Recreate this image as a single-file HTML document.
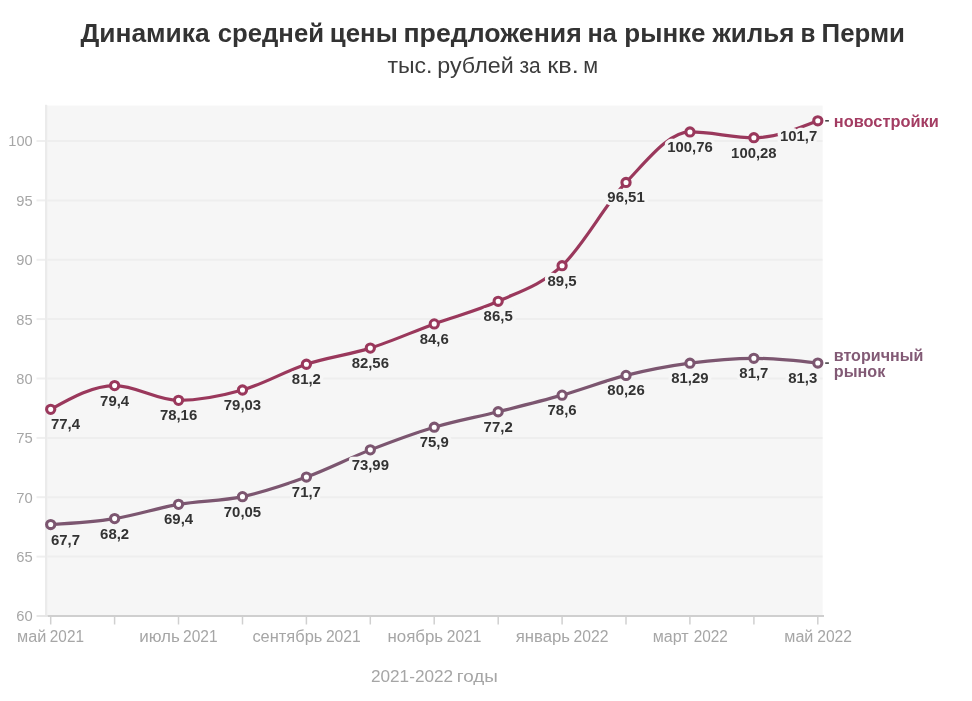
<!DOCTYPE html>
<html lang="ru"><head><meta charset="utf-8"><title>Динамика средней цены предложения на рынке жилья в Перми</title>
<style>html,body{margin:0;padding:0;background:#fff}body{width:972px;height:701px;overflow:hidden}svg{display:block}text{font-family:"Liberation Sans",sans-serif}.t{font-weight:bold;fill:#333333;font-size:25.2px}.s{fill:#3c3c3c;font-size:21.8px}.ax{fill:#a6a6a6}.dl{font-weight:bold;font-size:14.4px;fill:#333333;stroke:#f6f6f6;stroke-width:6.5;stroke-linejoin:round;paint-order:stroke fill}.lg{font-weight:bold;font-size:15.8px}</style></head><body>
<svg width="972" height="701" viewBox="0 0 972 701">
<rect width="972" height="701" fill="#fff"/>
<text class="t" y="42.00"><tspan x="80.49" textLength="129.24" lengthAdjust="spacingAndGlyphs">Динамика</tspan> <tspan x="217.70" textLength="106.38" lengthAdjust="spacingAndGlyphs">средней</tspan> <tspan x="329.82" textLength="67.97" lengthAdjust="spacingAndGlyphs">цены</tspan> <tspan x="403.46" textLength="178.30" lengthAdjust="spacingAndGlyphs">предложения</tspan> <tspan x="587.45" textLength="29.37" lengthAdjust="spacingAndGlyphs">на</tspan> <tspan x="624.31" textLength="81.29" lengthAdjust="spacingAndGlyphs">рынке</tspan> <tspan x="712.40" textLength="82.07" lengthAdjust="spacingAndGlyphs">жилья</tspan> <tspan x="800.43" textLength="14.91" lengthAdjust="spacingAndGlyphs">в</tspan> <tspan x="821.59" textLength="83.39" lengthAdjust="spacingAndGlyphs">Перми</tspan></text>
<text class="s" y="72.60"><tspan x="387.41" textLength="45.08" lengthAdjust="spacingAndGlyphs">тыс.</tspan> <tspan x="437.31" textLength="76.38" lengthAdjust="spacingAndGlyphs">рублей</tspan> <tspan x="519.52" textLength="21.25" lengthAdjust="spacingAndGlyphs">за</tspan> <tspan x="547.21" textLength="31.48" lengthAdjust="spacingAndGlyphs">кв.</tspan> <tspan x="583.21" textLength="14.87" lengthAdjust="spacingAndGlyphs">м</tspan></text>
<rect x="45.0" y="105.6" width="777.6" height="510.4" fill="#f6f6f6"/>
<rect x="45.0" y="104.8" width="2.2" height="511.2" fill="#ebebeb"/>
<line x1="36.5" x2="47.2" y1="616.0" y2="616.0" stroke="#e6e6e6" stroke-width="2"/>
<text class="ax" x="16.26" y="620.60" font-size="15.3" textLength="16.40" lengthAdjust="spacingAndGlyphs">60</text>
<line x1="47.2" x2="822.6" y1="556.6" y2="556.6" stroke="#eeeeee" stroke-width="2"/>
<line x1="36.5" x2="45.0" y1="556.6" y2="556.6" stroke="#efefef" stroke-width="2"/>
<text class="ax" x="16.26" y="562.02" font-size="15.3" textLength="16.45" lengthAdjust="spacingAndGlyphs">65</text>
<line x1="47.2" x2="822.6" y1="497.2" y2="497.2" stroke="#eeeeee" stroke-width="2"/>
<line x1="36.5" x2="45.0" y1="497.2" y2="497.2" stroke="#efefef" stroke-width="2"/>
<text class="ax" x="16.25" y="502.65" font-size="15.3" textLength="16.42" lengthAdjust="spacingAndGlyphs">70</text>
<line x1="47.2" x2="822.6" y1="437.9" y2="437.9" stroke="#eeeeee" stroke-width="2"/>
<line x1="36.5" x2="45.0" y1="437.9" y2="437.9" stroke="#efefef" stroke-width="2"/>
<text class="ax" x="16.25" y="443.27" font-size="15.3" textLength="16.47" lengthAdjust="spacingAndGlyphs">75</text>
<line x1="47.2" x2="822.6" y1="378.5" y2="378.5" stroke="#eeeeee" stroke-width="2"/>
<line x1="36.5" x2="45.0" y1="378.5" y2="378.5" stroke="#efefef" stroke-width="2"/>
<text class="ax" x="16.37" y="383.90" font-size="15.3" textLength="16.29" lengthAdjust="spacingAndGlyphs">80</text>
<line x1="47.2" x2="822.6" y1="319.1" y2="319.1" stroke="#eeeeee" stroke-width="2"/>
<line x1="36.5" x2="45.0" y1="319.1" y2="319.1" stroke="#efefef" stroke-width="2"/>
<text class="ax" x="16.37" y="324.52" font-size="15.3" textLength="16.34" lengthAdjust="spacingAndGlyphs">85</text>
<line x1="47.2" x2="822.6" y1="259.8" y2="259.8" stroke="#eeeeee" stroke-width="2"/>
<line x1="36.5" x2="45.0" y1="259.8" y2="259.8" stroke="#efefef" stroke-width="2"/>
<text class="ax" x="16.32" y="265.15" font-size="15.3" textLength="16.34" lengthAdjust="spacingAndGlyphs">90</text>
<line x1="47.2" x2="822.6" y1="200.4" y2="200.4" stroke="#eeeeee" stroke-width="2"/>
<line x1="36.5" x2="45.0" y1="200.4" y2="200.4" stroke="#efefef" stroke-width="2"/>
<text class="ax" x="16.32" y="206.08" font-size="15.3" textLength="16.39" lengthAdjust="spacingAndGlyphs">95</text>
<line x1="47.2" x2="822.6" y1="141.0" y2="141.0" stroke="#eeeeee" stroke-width="2"/>
<line x1="36.5" x2="45.0" y1="141.0" y2="141.0" stroke="#efefef" stroke-width="2"/>
<text class="ax" x="8.29" y="146.40" font-size="15.3" textLength="24.37" lengthAdjust="spacingAndGlyphs">100</text>
<line x1="47.5" x2="824.0" y1="616.0" y2="616.0" stroke="#cfcfcf" stroke-width="2"/>
<line x1="50.7" x2="50.7" y1="617.0" y2="624.5" stroke="#d0d0d0" stroke-width="1.5"/>
<line x1="114.6" x2="114.6" y1="617.0" y2="624.5" stroke="#d0d0d0" stroke-width="1.5"/>
<line x1="178.5" x2="178.5" y1="617.0" y2="624.5" stroke="#d0d0d0" stroke-width="1.5"/>
<line x1="242.5" x2="242.5" y1="617.0" y2="624.5" stroke="#d0d0d0" stroke-width="1.5"/>
<line x1="306.4" x2="306.4" y1="617.0" y2="624.5" stroke="#d0d0d0" stroke-width="1.5"/>
<line x1="370.3" x2="370.3" y1="617.0" y2="624.5" stroke="#d0d0d0" stroke-width="1.5"/>
<line x1="434.2" x2="434.2" y1="617.0" y2="624.5" stroke="#d0d0d0" stroke-width="1.5"/>
<line x1="498.2" x2="498.2" y1="617.0" y2="624.5" stroke="#d0d0d0" stroke-width="1.5"/>
<line x1="562.1" x2="562.1" y1="617.0" y2="624.5" stroke="#d0d0d0" stroke-width="1.5"/>
<line x1="626.0" x2="626.0" y1="617.0" y2="624.5" stroke="#d0d0d0" stroke-width="1.5"/>
<line x1="689.9" x2="689.9" y1="617.0" y2="624.5" stroke="#d0d0d0" stroke-width="1.5"/>
<line x1="753.9" x2="753.9" y1="617.0" y2="624.5" stroke="#d0d0d0" stroke-width="1.5"/>
<line x1="817.8" x2="817.8" y1="617.0" y2="624.5" stroke="#d0d0d0" stroke-width="1.5"/>
<text class="ax" y="641.80" font-size="15.8"><tspan x="17.08" textLength="29.33" lengthAdjust="spacingAndGlyphs">май</tspan> <tspan x="49.83" textLength="34.11" lengthAdjust="spacingAndGlyphs">2021</tspan></text>
<text class="ax" y="641.80" font-size="15.8"><tspan x="139.23" textLength="40.67" lengthAdjust="spacingAndGlyphs">июль</tspan> <tspan x="183.12" textLength="34.53" lengthAdjust="spacingAndGlyphs">2021</tspan></text>
<text class="ax" y="641.80" font-size="15.8"><tspan x="252.41" textLength="69.96" lengthAdjust="spacingAndGlyphs">сентябрь</tspan> <tspan x="325.92" textLength="34.84" lengthAdjust="spacingAndGlyphs">2021</tspan></text>
<text class="ax" y="641.80" font-size="15.8"><tspan x="387.43" textLength="55.76" lengthAdjust="spacingAndGlyphs">ноябрь</tspan> <tspan x="446.72" textLength="34.64" lengthAdjust="spacingAndGlyphs">2021</tspan></text>
<text class="ax" y="641.80" font-size="15.8"><tspan x="515.67" textLength="54.42" lengthAdjust="spacingAndGlyphs">январь</tspan> <tspan x="573.61" textLength="34.98" lengthAdjust="spacingAndGlyphs">2022</tspan></text>
<text class="ax" y="641.80" font-size="15.8"><tspan x="652.69" textLength="35.98" lengthAdjust="spacingAndGlyphs">март</tspan> <tspan x="693.63" textLength="34.25" lengthAdjust="spacingAndGlyphs">2022</tspan></text>
<text class="ax" y="641.80" font-size="15.8"><tspan x="784.29" textLength="29.12" lengthAdjust="spacingAndGlyphs">май</tspan> <tspan x="817.22" textLength="34.77" lengthAdjust="spacingAndGlyphs">2022</tspan></text>
<text class="ax" y="682.20" font-size="15.8"><tspan x="370.94" textLength="82.22" lengthAdjust="spacingAndGlyphs">2021-2022</tspan> <tspan x="456.80" textLength="41.11" lengthAdjust="spacingAndGlyphs">годы</tspan></text>
<path d="M50.70,524.56C72.01,523.28,93.32,521.99,114.62,518.62C135.93,515.26,157.24,508.04,178.55,504.37C199.86,500.71,221.17,501.21,242.47,496.66C263.78,492.10,285.09,484.86,306.40,477.06C327.71,469.26,349.02,458.18,370.32,449.87C391.63,441.56,412.94,433.54,434.25,427.19C455.56,420.83,476.87,417.09,498.17,411.75C519.48,406.41,540.79,401.18,562.10,395.13C583.41,389.07,604.72,380.74,626.02,375.41C647.33,370.09,668.64,366.03,689.95,363.18C711.26,360.33,732.57,358.31,753.87,358.31C775.18,358.31,796.49,360.69,817.80,363.06" fill="none" stroke="#7c5670" stroke-width="3.2" stroke-linecap="round" stroke-linejoin="round"/>
<path d="M50.70,409.37C72.01,397.50,93.32,385.62,114.62,385.62C135.93,385.62,157.24,400.35,178.55,400.35C199.86,400.35,221.17,396.04,242.47,390.02C263.78,384.00,285.09,371.24,306.40,364.25C327.71,357.26,349.02,354.83,370.32,348.10C391.63,341.37,412.94,331.67,434.25,323.88C455.56,316.08,476.87,311.01,498.17,301.31C519.48,291.61,540.79,285.50,562.10,265.69C583.41,245.88,604.72,204.73,626.02,182.44C647.33,160.16,668.64,131.97,689.95,131.97C711.26,131.97,732.57,137.68,753.87,137.68C775.18,137.68,796.49,129.24,817.80,120.81" fill="none" stroke="#9a385c" stroke-width="3.2" stroke-linecap="round" stroke-linejoin="round"/>
<text class="dl" x="50.90" y="544.56" textLength="29.10" lengthAdjust="spacingAndGlyphs">67,7</text>
<text class="dl" x="100.08" y="538.62" textLength="29.10" lengthAdjust="spacingAndGlyphs">68,2</text>
<text class="dl" x="164.00" y="524.38" textLength="29.10" lengthAdjust="spacingAndGlyphs">69,4</text>
<text class="dl" x="223.82" y="516.66" textLength="37.30" lengthAdjust="spacingAndGlyphs">70,05</text>
<text class="dl" x="291.85" y="497.06" textLength="29.10" lengthAdjust="spacingAndGlyphs">71,7</text>
<text class="dl" x="351.67" y="469.87" textLength="37.30" lengthAdjust="spacingAndGlyphs">73,99</text>
<text class="dl" x="419.70" y="447.19" textLength="29.10" lengthAdjust="spacingAndGlyphs">75,9</text>
<text class="dl" x="483.62" y="431.75" textLength="29.10" lengthAdjust="spacingAndGlyphs">77,2</text>
<text class="dl" x="547.55" y="415.13" textLength="29.10" lengthAdjust="spacingAndGlyphs">78,6</text>
<text class="dl" x="607.38" y="395.41" textLength="37.30" lengthAdjust="spacingAndGlyphs">80,26</text>
<text class="dl" x="671.30" y="383.18" textLength="37.30" lengthAdjust="spacingAndGlyphs">81,29</text>
<text class="dl" x="739.32" y="378.31" textLength="29.10" lengthAdjust="spacingAndGlyphs">81,7</text>
<text class="dl" x="788.20" y="383.06" textLength="29.10" lengthAdjust="spacingAndGlyphs">81,3</text>
<text class="dl" x="50.90" y="429.37" textLength="29.10" lengthAdjust="spacingAndGlyphs">77,4</text>
<text class="dl" x="100.08" y="405.62" textLength="29.10" lengthAdjust="spacingAndGlyphs">79,4</text>
<text class="dl" x="159.90" y="420.35" textLength="37.30" lengthAdjust="spacingAndGlyphs">78,16</text>
<text class="dl" x="223.82" y="410.02" textLength="37.30" lengthAdjust="spacingAndGlyphs">79,03</text>
<text class="dl" x="291.85" y="384.25" textLength="29.10" lengthAdjust="spacingAndGlyphs">81,2</text>
<text class="dl" x="351.67" y="368.10" textLength="37.30" lengthAdjust="spacingAndGlyphs">82,56</text>
<text class="dl" x="419.70" y="343.88" textLength="29.10" lengthAdjust="spacingAndGlyphs">84,6</text>
<text class="dl" x="483.62" y="321.31" textLength="29.10" lengthAdjust="spacingAndGlyphs">86,5</text>
<text class="dl" x="547.55" y="285.69" textLength="29.10" lengthAdjust="spacingAndGlyphs">89,5</text>
<text class="dl" x="607.38" y="202.44" textLength="37.30" lengthAdjust="spacingAndGlyphs">96,51</text>
<text class="dl" x="667.20" y="151.97" textLength="45.50" lengthAdjust="spacingAndGlyphs">100,76</text>
<text class="dl" x="731.12" y="157.68" textLength="45.50" lengthAdjust="spacingAndGlyphs">100,28</text>
<text class="dl" x="780.00" y="140.81" textLength="37.30" lengthAdjust="spacingAndGlyphs">101,7</text>
<circle cx="50.70" cy="524.56" r="4.1" fill="#fff" stroke="#7c5670" stroke-width="3.1"/>
<circle cx="114.62" cy="518.62" r="4.1" fill="#fff" stroke="#7c5670" stroke-width="3.1"/>
<circle cx="178.55" cy="504.37" r="4.1" fill="#fff" stroke="#7c5670" stroke-width="3.1"/>
<circle cx="242.47" cy="496.66" r="4.1" fill="#fff" stroke="#7c5670" stroke-width="3.1"/>
<circle cx="306.40" cy="477.06" r="4.1" fill="#fff" stroke="#7c5670" stroke-width="3.1"/>
<circle cx="370.32" cy="449.87" r="4.1" fill="#fff" stroke="#7c5670" stroke-width="3.1"/>
<circle cx="434.25" cy="427.19" r="4.1" fill="#fff" stroke="#7c5670" stroke-width="3.1"/>
<circle cx="498.17" cy="411.75" r="4.1" fill="#fff" stroke="#7c5670" stroke-width="3.1"/>
<circle cx="562.10" cy="395.13" r="4.1" fill="#fff" stroke="#7c5670" stroke-width="3.1"/>
<circle cx="626.02" cy="375.41" r="4.1" fill="#fff" stroke="#7c5670" stroke-width="3.1"/>
<circle cx="689.95" cy="363.18" r="4.1" fill="#fff" stroke="#7c5670" stroke-width="3.1"/>
<circle cx="753.87" cy="358.31" r="4.1" fill="#fff" stroke="#7c5670" stroke-width="3.1"/>
<circle cx="817.80" cy="363.06" r="4.1" fill="#fff" stroke="#7c5670" stroke-width="3.1"/>
<circle cx="50.70" cy="409.37" r="4.1" fill="#fff" stroke="#9a385c" stroke-width="3.1"/>
<circle cx="114.62" cy="385.62" r="4.1" fill="#fff" stroke="#9a385c" stroke-width="3.1"/>
<circle cx="178.55" cy="400.35" r="4.1" fill="#fff" stroke="#9a385c" stroke-width="3.1"/>
<circle cx="242.47" cy="390.02" r="4.1" fill="#fff" stroke="#9a385c" stroke-width="3.1"/>
<circle cx="306.40" cy="364.25" r="4.1" fill="#fff" stroke="#9a385c" stroke-width="3.1"/>
<circle cx="370.32" cy="348.10" r="4.1" fill="#fff" stroke="#9a385c" stroke-width="3.1"/>
<circle cx="434.25" cy="323.88" r="4.1" fill="#fff" stroke="#9a385c" stroke-width="3.1"/>
<circle cx="498.17" cy="301.31" r="4.1" fill="#fff" stroke="#9a385c" stroke-width="3.1"/>
<circle cx="562.10" cy="265.69" r="4.1" fill="#fff" stroke="#9a385c" stroke-width="3.1"/>
<circle cx="626.02" cy="182.44" r="4.1" fill="#fff" stroke="#9a385c" stroke-width="3.1"/>
<circle cx="689.95" cy="131.97" r="4.1" fill="#fff" stroke="#9a385c" stroke-width="3.1"/>
<circle cx="753.87" cy="137.68" r="4.1" fill="#fff" stroke="#9a385c" stroke-width="3.1"/>
<circle cx="817.80" cy="120.81" r="4.1" fill="#fff" stroke="#9a385c" stroke-width="3.1"/>
<line x1="825.2" x2="828.9" y1="120.8" y2="120.8" stroke="#444444" stroke-width="1.6"/>
<line x1="825.2" x2="828.9" y1="363.1" y2="363.1" stroke="#444444" stroke-width="1.6"/>
<text class="lg" x="833.87" y="126.90" textLength="104.85" lengthAdjust="spacingAndGlyphs" fill="#a33c62">новостройки</text>
<text class="lg" x="833.79" y="360.80" textLength="89.52" lengthAdjust="spacingAndGlyphs" fill="#825a75">вторичный</text>
<text class="lg" x="833.85" y="376.50" textLength="51.54" lengthAdjust="spacingAndGlyphs" fill="#825a75">рынок</text>
</svg></body></html>
